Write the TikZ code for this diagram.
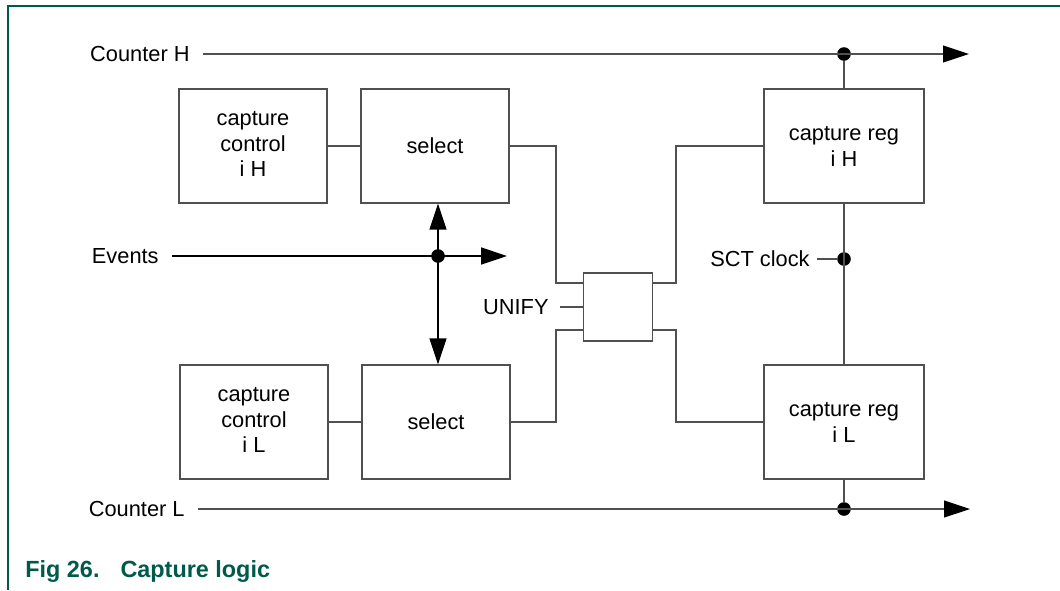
\documentclass[tikz,border=0pt]{standalone}
\usepackage{fontspec}
\setmainfont{Liberation Sans}
\usetikzlibrary{arrows.meta}
\definecolor{nxpgreen}{RGB}{0,90,75}
\definecolor{wire}{RGB}{80,80,80}
\tikzset{
  blk/.style={draw=wire, line width=0.6pt, minimum width=74pt, minimum height=57pt, inner sep=0pt, align=center, font=\fontsize{10.9}{13}\selectfont},
  regblk/.style={blk, minimum width=80pt},
  unifyblk/.style={draw=wire, line width=0.6pt, minimum width=34.5pt, minimum height=34pt, inner sep=0pt},
  lbl/.style={inner xsep=6.5pt, inner ysep=0pt, anchor=east, font=\fontsize{10.9}{13}\selectfont},
  wireline/.style={draw=wire, line width=0.55pt},
  sigline/.style={draw=black, line width=0.7pt},
  junction/.style={circle, fill=black, inner sep=0pt, minimum size=6.8pt},
  tip/.style={-{Triangle[length=13pt,width=8.5pt,color=black]}},
  dtip/.style={{Triangle[length=13pt,width=8.5pt,color=black]}-{Triangle[length=13pt,width=8.5pt,color=black]}},
  frameline/.style={draw=nxpgreen, line width=0.75pt},
  caption/.style={anchor=base west, inner sep=0pt, text=nxpgreen, font=\fontsize{11.7}{14}\selectfont\bfseries}
}
\begin{document}
\begin{tikzpicture}[x=0.5pt, y=-0.5pt]
\useasboundingbox (0,0) rectangle (1060,590);
% frame
\draw[frameline] (8,590) -- (8,6) -- (1060,6);
\node[caption] (cap) at (25,577) {Fig 26.\hspace{10.5pt}Capture logic};

% blocks
\node[blk] (ccH) at (253,146) {\raisebox{2.5pt}{\begin{tabular}{@{}c@{}}capture\\[-0.2pt]control\\[-0.2pt]i H\end{tabular}}};
\node[blk] (selH) at (435,146) {select};
\node[regblk] (crH) at (844,146) {capture reg\\i H};
\node[blk] (ccL) at (254,422) {\raisebox{2pt}{\begin{tabular}{@{}c@{}}capture\\[-0.2pt]control\\[-0.2pt]i L\end{tabular}}};
\node[blk] (selL) at (436,422) {select};
\node[regblk] (crL) at (844,422) {capture reg\\i L};
\node[unifyblk] (unify) at (618,307) {};

% labels
\node[lbl] (cntH) at (203,54) {Counter H};
\node[lbl] (ev) at (172,256) {Events};
\node[lbl] (cntL) at (198,509) {Counter L};
\node[lbl, inner xsep=3.5pt] (sct) at (817,259) {SCT clock};
\node[lbl, inner xsep=5.5pt] (unl) at (560,307) {UNIFY};

% junctions and ends
\node[junction] (dotH) at (844,54) {};
\node[junction] (dotE) at (438,256) {};
\node[junction] (dotS) at (844,259) {};
\node[junction] (dotL) at (844,509) {};
\coordinate (endH) at (969,54);
\coordinate (endE) at (507,256);
\coordinate (endL) at (970,509);
\coordinate (ul1) at (556,283);
\coordinate (ul2) at (556,330);
\coordinate (ur1) at (676,283);
\coordinate (ur2) at (676,330);

% counter buses
\draw[wireline, tip] (cntH.east) -- (endH);
\draw[wireline] (dotH) -- (crH.north);
\draw[wireline, tip] (cntL.east) -- (endL);
\draw[wireline] (crL.south) -- (dotL);

% events
\draw[sigline, tip] (ev.east) -- (endE);
\draw[sigline, dtip] (dotE |- selH.south) -- (dotE |- selL.north);

% SCT clock
\draw[wireline] (crH.south) -- (crL.north);
\draw[wireline] (sct.east) -- (dotS);

% control to select
\draw[wireline] (ccH.east) -- (selH.west);
\draw[wireline] (ccL.east) -- (selL.west);

% select to unify
\draw[wireline] (selH.east) -| (ul1) -- (ul1 -| unify.west);
\draw[wireline] (selL.east) -| (ul2) -- (ul2 -| unify.west);
\draw[wireline] (unl.east) -- (unl.east -| unify.west);

% unify to capture regs
\draw[wireline] (ur1 -| unify.east) -- (ur1) |- (crH.west);
\draw[wireline] (ur2 -| unify.east) -- (ur2) |- (crL.west);
\end{tikzpicture}
\end{document}
